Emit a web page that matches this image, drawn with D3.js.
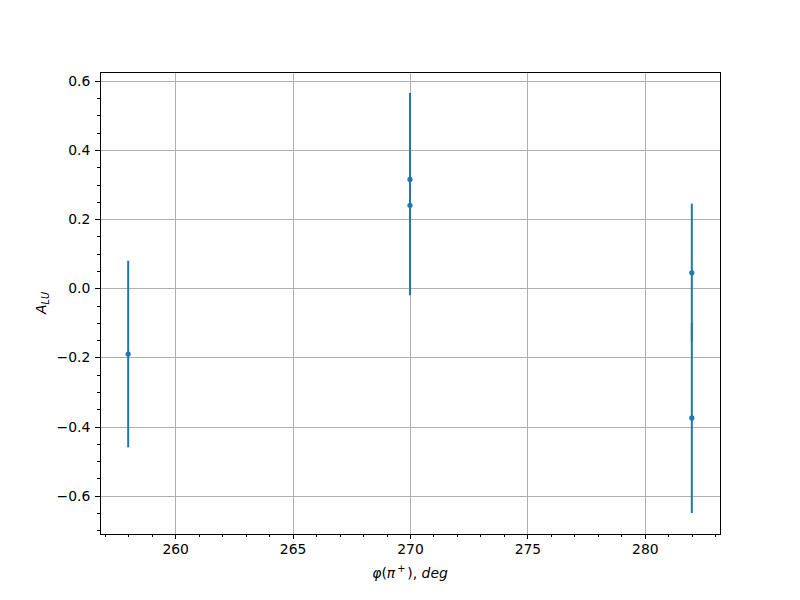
<!DOCTYPE html>
<html><head><meta charset="utf-8">
<script src="https://cdn.jsdelivr.net/npm/d3@7"></script>
<style>body{margin:0;background:#fff}svg{display:block}text{font-family:"DejaVu Sans",sans-serif}</style>
</head><body>
<script>
const xVals = [258, 270, 270, 282, 282];
const yVals = [-0.19, 0.315, 0.24, 0.045, -0.375];
const yErr = [0.27, 0.25, 0.26, 0.2, 0.275];
const xTicks = [260, 265, 270, 275, 280];
const yTicks = [-0.6, -0.4, -0.2, 0.0, 0.2, 0.4, 0.6];

const W = 800, H = 600;
const m = {left: 100, right: 720, top: 72, bottom: 534};
const svg = d3.select("body").append("svg").attr("width", W).attr("height", H);

const lo = d3.min(yVals.map((v,i)=>v-yErr[i])), hi = d3.max(yVals.map((v,i)=>v+yErr[i]));
const yp = (hi-lo)*0.05;
const xmin = d3.min(xVals), xmax = d3.max(xVals), xp = (xmax-xmin)*0.05;
const x = d3.scaleLinear().domain([xmin-xp, xmax+xp]).range([m.left, m.right]);
const y = d3.scaleLinear().domain([lo-yp, hi+yp]).range([m.bottom, m.top]);
const px = v => Math.round(v) + 0.5;

// grid
svg.append("g").selectAll("line").data(xTicks).join("line")
  .attr("x1", d=>px(x(d))).attr("x2", d=>px(x(d))).attr("y1", m.top).attr("y2", m.bottom)
  .attr("stroke", "#b0b0b0").attr("stroke-width", 1);
svg.append("g").selectAll("line").data(yTicks).join("line")
  .attr("y1", d=>px(y(d))).attr("y2", d=>px(y(d))).attr("x1", m.left).attr("x2", m.right)
  .attr("stroke", "#b0b0b0").attr("stroke-width", 1);

// axes
const xMinor = d3.range(257, 284, 1).filter(v => v % 5 !== 0);
const yMinor = d3.range(-0.70, 0.63, 0.05).map(v=>Math.round(v*100)/100).filter(v => Math.abs(Math.round(v*10)/10 - v) > 1e-6 || Math.round(v*10) % 2 !== 0);
const ax = svg.append("g").attr("transform", `translate(0,${m.bottom})`)
  .call(d3.axisBottom(x).tickValues(xTicks).tickSize(4.86).tickPadding(4.86).tickFormat(d3.format("d")));
const axm = svg.append("g").attr("transform", `translate(0,${m.bottom})`)
  .call(d3.axisBottom(x).tickValues(xMinor).tickSize(2.78).tickFormat(""));
const ay = svg.append("g").attr("transform", `translate(${m.left},0)`)
  .call(d3.axisLeft(y).tickValues(yTicks).tickSize(4.86).tickPadding(4.86).tickFormat(d=>d3.format(".1f")(d).replace("-", "\u2212")));
const aym = svg.append("g").attr("transform", `translate(${m.left},0)`)
  .call(d3.axisLeft(y).tickValues(yMinor).tickSize(2.78).tickFormat(""));
[ax, axm, ay, aym].forEach(g => {
  g.select(".domain").remove();
  g.selectAll("line").attr("stroke", "#000").attr("stroke-width", 1).attr("shape-rendering", "crispEdges");
  g.selectAll("text").attr("font-size", 13.9).attr("fill", "#000").attr("font-family", "DejaVu Sans");
});
// spines
svg.append("rect").attr("x", m.left + 0.5).attr("y", m.top + 0.5).attr("width", m.right-m.left).attr("height", m.bottom-m.top)
  .attr("fill", "none").attr("stroke", "#000").attr("stroke-width", 1);

// error bars
const c = "#1f77b4";
svg.append("g").selectAll("line").data(xVals).join("line")
  .attr("x1", (d)=>x(d)).attr("x2", d=>x(d))
  .attr("y1", (d,i)=>y(yVals[i]-yErr[i])).attr("y2", (d,i)=>y(yVals[i]+yErr[i]))
  .attr("stroke", c).attr("stroke-width", 2);
svg.append("g").selectAll("circle").data(xVals).join("circle")
  .attr("cx", d=>x(d)).attr("cy", (d,i)=>y(yVals[i])).attr("r", 2.6).attr("fill", c);

// labels
const xl = svg.append("text").attr("x", (m.left+m.right)/2).attr("y", 578).attr("text-anchor", "middle")
  .attr("font-size", 13.9).attr("font-family", "DejaVu Sans");
xl.append("tspan").attr("font-style", "italic").text("φ");
xl.append("tspan").text("(");
xl.append("tspan").attr("font-style", "italic").text("π");
xl.append("tspan").attr("font-size", 9.7).attr("dy", -6).attr("dx", 2).text("+");
xl.append("tspan").attr("dy", 6).attr("dx", 2).text(")");
xl.append("tspan").text(", ");
xl.append("tspan").attr("font-style", "italic").text("deg");

const yl = svg.append("text").attr("transform", `translate(46,${(m.top+m.bottom)/2}) rotate(-90)`)
  .attr("text-anchor", "middle").attr("font-size", 13.9).attr("font-family", "DejaVu Sans");
yl.append("tspan").attr("font-style", "italic").text("A");
yl.append("tspan").attr("font-style", "italic").attr("font-size", 9.7).attr("dy", 3).text("LU");
</script>
</body></html>
